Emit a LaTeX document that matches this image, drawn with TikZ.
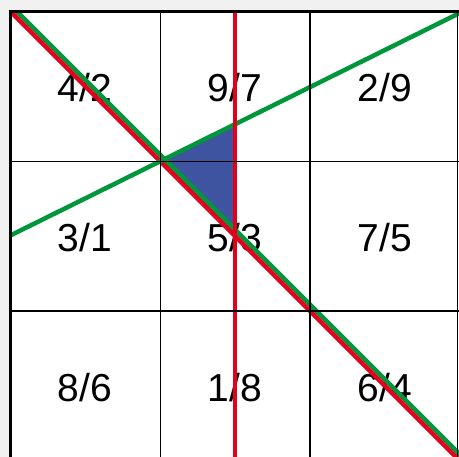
\documentclass[tikz,border=0pt]{standalone}
\usepackage{fontspec}
\setmainfont{Liberation Sans}
\definecolor{bggray}{RGB}{240,241,240}
\definecolor{lred}{RGB}{226,0,26}
\definecolor{lgreen}{RGB}{0,150,60}
\definecolor{tblue}{RGB}{63,84,160}
\begin{document}
\begin{tikzpicture}[x=1pt,y=-1pt,
  lbl/.style={anchor=base,font=\fontsize{39}{39}\selectfont,inner sep=0pt},
  gridline/.style={draw=black,line width=1.2pt},
  border/.style={draw=black,line width=3pt},
  redline/.style={draw=lred,line width=4.5pt},
  greenline/.style={draw=lgreen,line width=4.5pt}]
\useasboundingbox (0,0) rectangle (459,457);
\fill[bggray] (0,0) rectangle (459,457);
\fill[white] (10.5,12.5) rectangle (459,457);
% triangle
\coordinate (P) at (160.5,161.5);
\coordinate (T) at (235,124.5);
\coordinate (B) at (235,236.5);
\fill[tblue] (P) -- (T) -- (B) -- cycle;
% labels
\node[lbl] (c11) at (85,102) {4/2};
\node[lbl] (c12) at (235,102) {9/7};
\node[lbl] (c13) at (385,102) {2/9};
\node[lbl] (c21) at (85,252) {3/1};
\node[lbl] (c22) at (235,252) {5/3};
\node[lbl] (c23) at (385,252) {7/5};
\node[lbl] (c31) at (85,402) {8/6};
\node[lbl] (c32) at (235,402) {1/8};
\node[lbl] (c33) at (385,402) {6/4};
% lines
\begin{scope}
\clip (10.5,12.5) rectangle (459,457);
\coordinate (RD1) at (0,1);
\coordinate (RD2) at (470,471);
\coordinate (GD1) at (0,-5.4);
\coordinate (GD2) at (470,464.6);
\coordinate (GR1) at (0,240.6);
\coordinate (GR2) at (470,7.9);
\coordinate (RV1) at (235,0);
\coordinate (RV2) at (235,470);
\draw[greenline] (GD1) -- (GD2);
\draw[redline] (RD1) -- (RD2);
\draw[greenline] (GR1) -- (GR2);
\draw[redline] (RV1) -- (RV2);
\end{scope}
% grid
\draw[gridline] (160.5,12.5) -- (160.5,457);
\draw[gridline] (310,12.5) -- (310,457);
\draw[gridline] (457.5,12.5) -- (457.5,457);
\draw[gridline] (10.5,161.5) -- (459,161.5);
\draw[gridline] (10.5,311) -- (459,311);
\draw[border] (10.5,457) -- (10.5,12) -- (459,12);
\end{tikzpicture}
\end{document}
